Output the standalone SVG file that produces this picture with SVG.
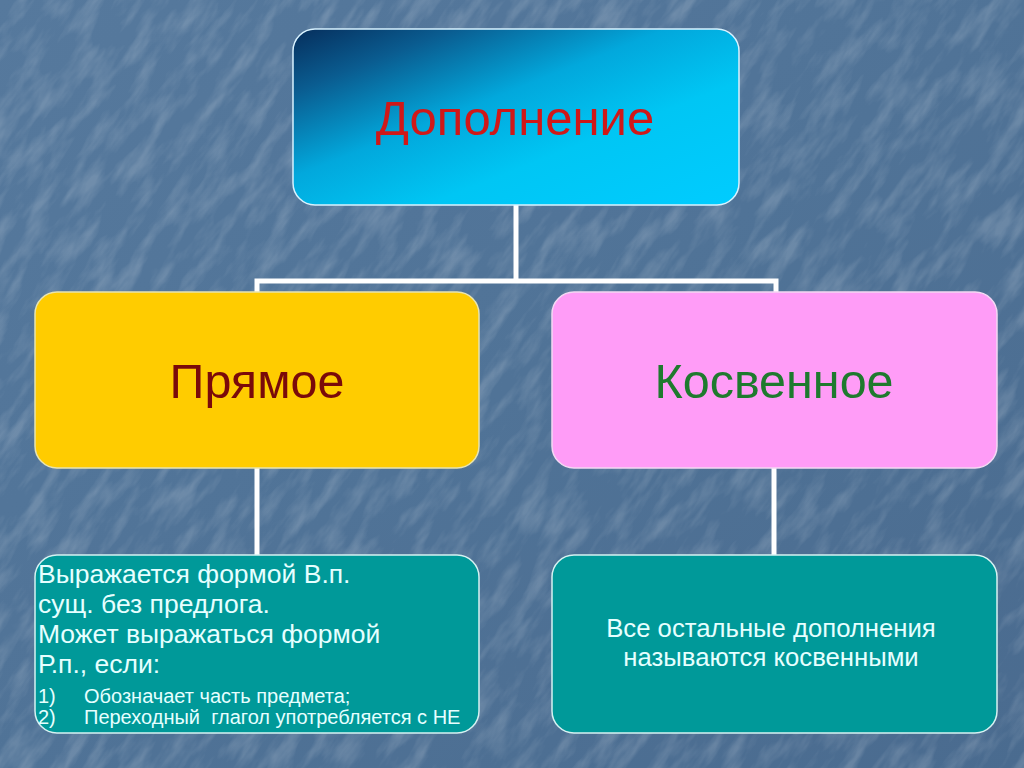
<svg xmlns="http://www.w3.org/2000/svg" width="1024" height="768" viewBox="0 0 1024 768">
<defs>
<linearGradient id="bg" x1="0" y1="0" x2="1" y2="1">
<stop offset="0" stop-color="#56799D"/>
<stop offset="0.5" stop-color="#507397"/>
<stop offset="1" stop-color="#4A6B8F"/>
</linearGradient>
<filter id="tex" x="0" y="0" width="100%" height="100%">
<feTurbulence type="fractalNoise" baseFrequency="0.02 0.07" numOctaves="4" seed="7" result="n"/>
<feColorMatrix type="matrix" values="0 0 0 0 1  0 0 0 0 1  0 0 0 0 1  0 0 0 -2.5 1.45" in="n"/>
</filter>
<linearGradient id="topg" x1="0" y1="0" x2="1" y2="1">
<stop offset="0" stop-color="#062E5C"/>
<stop offset="0.18" stop-color="#0A5C90"/>
<stop offset="0.42" stop-color="#02A8DC"/>
<stop offset="0.65" stop-color="#00C6F4"/>
<stop offset="1" stop-color="#00CCFF"/>
</linearGradient>
<style>
.box{stroke-width:1.5}
.conn{stroke:#FFFFFF;stroke-width:5;fill:none}
.t{font-family:"Liberation Sans",Arial,sans-serif}
.wt{fill:#E6FFFF}
</style>
</defs>
<rect width="1024" height="768" fill="url(#bg)"/>
<g transform="rotate(-55 512 384)" opacity="0.16">
<rect x="-400" y="-400" width="1824" height="1568" filter="url(#tex)"/>
</g>
<g id="connectors">
<path class="conn" d="M516 205 V281"/>
<path class="conn" d="M257 292 V281 H776 V292"/>
<path class="conn" d="M257 468 V555"/>
<path class="conn" d="M774 468 V555"/>
</g>
<g id="node-dopolnenie">
<rect class="box" x="293" y="29" width="446" height="176" rx="22" fill="url(#topg)" stroke="#D8F2FF"/>
<text class="t" x="515" y="135" text-anchor="middle" font-size="49" fill="#D01818">Дополнение</text>
</g>
<g id="node-pryamoe">
<rect class="box" x="35" y="292" width="444" height="176" rx="22" fill="#FFCC00" stroke="#E8E4B0"/>
<text class="t" x="257" y="398" text-anchor="middle" font-size="48.5" fill="#7A0A0A">Прямое</text>
</g>
<g id="node-kosvennoe">
<rect class="box" x="552" y="292" width="445" height="176" rx="22" fill="#FF9CF7" stroke="#F4D8F4"/>
<text class="t" x="774" y="398" text-anchor="middle" font-size="48.5" fill="#1E7A2E">Косвенное</text>
</g>
<g id="node-pryamoe-desc">
<rect class="box" x="35" y="555" width="444" height="178" rx="22" fill="#009999" stroke="#D6F2F2"/>
<text class="t wt" x="38" y="583" font-size="26.5">Выражается формой В.п.</text>
<text class="t wt" x="38" y="613" font-size="26.5">сущ. без предлога.</text>
<text class="t wt" x="38" y="643" font-size="26.5">Может выражаться формой</text>
<text class="t wt" x="38" y="673" font-size="26.5">Р.п., если:</text>
<text class="t wt" x="38" y="703" font-size="20">1)</text>
<text class="t wt" x="84" y="703" font-size="20">Обозначает часть предмета;</text>
<text class="t wt" x="38" y="724" font-size="20">2)</text>
<text class="t wt" x="84" y="724" font-size="20" xml:space="preserve">Переходный  глагол употребляется с НЕ</text>
</g>
<g id="node-kosvennoe-desc">
<rect class="box" x="552" y="555" width="445" height="178" rx="22" fill="#009999" stroke="#D6F2F2"/>
<text class="t wt" x="771" y="637" text-anchor="middle" font-size="25.7">Все остальные дополнения</text>
<text class="t wt" x="771" y="666" text-anchor="middle" font-size="25.7">называются косвенными</text>
</g>
</svg>
